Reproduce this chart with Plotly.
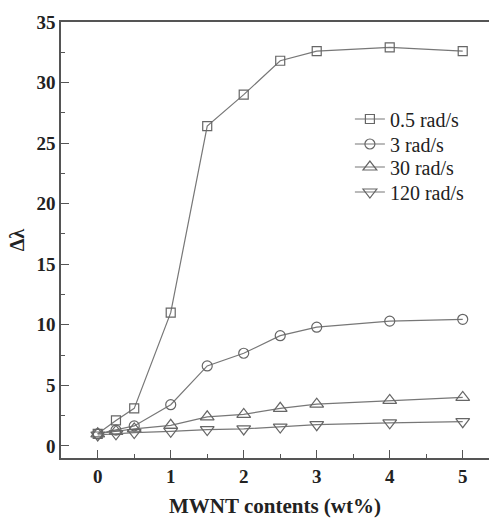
import plotly.graph_objects as go

x_wt = [0, 0.25, 0.5, 1, 1.5, 2, 2.5, 3, 4, 5]
s_05 = [1.0, 2.1, 3.1, 11.0, 26.4, 29.0, 31.8, 32.6, 32.9, 32.6]
s_3 = [1.0, 1.3, 1.65, 3.4, 6.6, 7.65, 9.1, 9.8, 10.3, 10.45]
s_30 = [1.0, 1.2, 1.4, 1.7, 2.4, 2.6, 3.1, 3.45, 3.75, 4.0]
s_120 = [0.9, 1.0, 1.1, 1.2, 1.35, 1.4, 1.55, 1.75, 1.9, 2.0]
names = ["0.5 rad/s", "3 rad/s", "30 rad/s", "120 rad/s"]
symbols = ["square-open", "circle-open", "triangle-up-open", "triangle-down-open"]
sizes = [9, 10, 12, 12]
x_ticks = [0, 1, 2, 3, 4, 5]
y_ticks = [0, 5, 10, 15, 20, 25, 30, 35]

font_fam = "Liberation Serif"
legend_ids = ["legend", "legend2", "legend3", "legend4"]
legend_y = [0.7775, 0.7202, 0.6674, 0.6101]

fig = go.Figure()
for ys, nm, sym, sz, lid in zip([s_05, s_3, s_30, s_120], names, symbols, sizes, legend_ids):
    fig.add_trace(go.Scatter(
        x=x_wt, y=ys, name=nm, mode="lines+markers", legend=lid,
        line=dict(color="#777777", width=1.2),
        marker=dict(symbol=sym, size=sz, color="#666666", line=dict(width=1.2, color="#666666")),
    ))

legend_common = dict(x=0.675, xanchor="left", yanchor="middle",
                     font=dict(size=20, family=font_fam, color="#222222"),
                     bgcolor="rgba(0,0,0,0)", itemwidth=30)
layout_legends = {lid: dict(y=ly, **legend_common) for lid, ly in zip(legend_ids, legend_y)}

fig.update_layout(
    width=489, height=518,
    margin=dict(l=61, r=0, t=22, b=60),
    paper_bgcolor="white", plot_bgcolor="white",
    font=dict(family=font_fam, color="#222222"),
    showlegend=True,
    **layout_legends,
)
fig.update_xaxes(
    range=[-0.503, 5.36], showgrid=False, zeroline=False,
    showline=True, linecolor="#555555", linewidth=1.5, mirror=True,
    ticks="inside", ticklen=8, tickwidth=1.2, tickcolor="#555555",
    tickvals=x_ticks, ticktext=[f"<b>{v}</b>" for v in x_ticks],
    minor=dict(ticks="inside", ticklen=4, tickwidth=1.2, tickcolor="#555555", tickvals=[0.5, 1.5, 2.5, 3.5, 4.5]),
    tickfont=dict(size=19, family=font_fam, color="#222222"),
    title=dict(text="<b>MWNT contents (wt%)</b>", font=dict(size=21, family=font_fam, color="#222222"), standoff=14),
)
fig.update_yaxes(
    range=[-1.0, 35.0], showgrid=False, zeroline=False,
    showline=True, linecolor="#555555", linewidth=1.5,
    ticks="inside", ticklen=8, tickwidth=1.2, tickcolor="#555555",
    tickvals=y_ticks, ticktext=[f"<b>{v}</b>" for v in y_ticks],
    minor=dict(ticks="inside", ticklen=4, tickwidth=1.2, tickcolor="#555555", tickvals=[2.5, 7.5, 12.5, 17.5, 22.5, 27.5, 32.5]),
    tickfont=dict(size=19, family=font_fam, color="#222222"),
    title=dict(text="<b>Δλ</b>", font=dict(size=20, family=font_fam, color="#222222"), standoff=6),
)
fig.write_html("out.html")
